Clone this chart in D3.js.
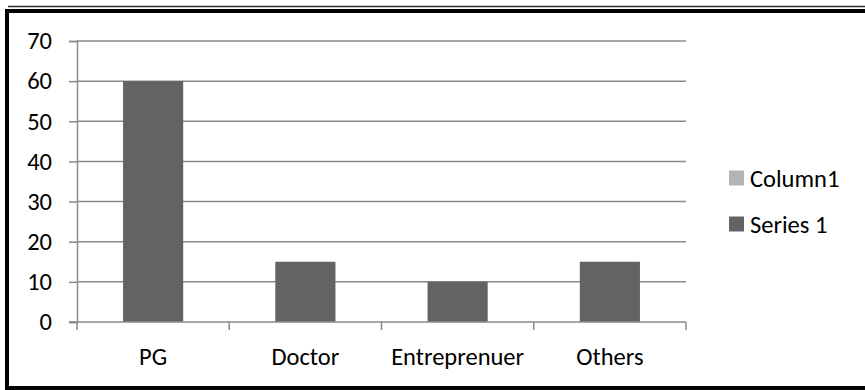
<!DOCTYPE html>
<html>
<head>
<meta charset="utf-8">
<script src="https://cdn.jsdelivr.net/npm/d3@7"></script>
<style>
  html, body { margin: 0; padding: 0; background: #fff; }
  svg { display: block; }
  text { font-family: Carlito, Lato, "Liberation Sans", sans-serif; fill: #000; }
</style>
</head>
<body>
<svg id="chart" width="865" height="390"></svg>
<script>
// Chart data
const categories = ["PG", "Doctor", "Entreprenuer", "Others"];
const series1 = [60, 15, 10, 15];
const yTicks = [0, 10, 20, 30, 40, 50, 60, 70];
const legendLabels = ["Column1", "Series 1"];

const W = 865, H = 390;
const plot = { left: 77, right: 686, top: 41, bottom: 322 };
const fontSize = 24.5;
const gridColor = "#8a8a8a";
const barColor = "#636363";
const legendColors = ["#b3b3b3", barColor];

const svg = d3.select("#chart");

// Outer frame
const frame = svg.append("g");
frame.append("line").attr("x1", 8).attr("x2", W).attr("y1", 6.5).attr("y2", 6.5)
  .attr("stroke", "#2b2b2b").attr("stroke-width", 1.5);
frame.append("rect").attr("x", 5).attr("y", 9).attr("width", W - 5).attr("height", 4).attr("fill", "#000");
frame.append("rect").attr("x", 5).attr("y", 9).attr("width", 4).attr("height", H - 9).attr("fill", "#000");
frame.append("rect").attr("x", 5).attr("y", 386).attr("width", W - 5).attr("height", 4).attr("fill", "#000");

// Scales
const y = d3.scaleLinear().domain([0, 70]).range([plot.bottom, plot.top]);
const barRatio = 0.395;
const x = d3.scaleBand().domain(categories).range([plot.left, plot.right])
  .paddingInner(1 - barRatio).paddingOuter((1 - barRatio) / 2);

// Horizontal gridlines
svg.append("g").selectAll("line").data(yTicks.filter(d => d > 0)).join("line")
  .attr("x1", plot.left).attr("x2", plot.right)
  .attr("y1", d => y(d)).attr("y2", d => y(d))
  .attr("stroke", gridColor).attr("stroke-width", 1.5);

// Y axis
const yAxis = svg.append("g").attr("transform", `translate(${plot.left},0)`)
  .call(d3.axisLeft(y).tickValues(yTicks).tickSize(8).tickPadding(17).tickFormat(d3.format("d")));
yAxis.select(".domain").attr("stroke", gridColor).attr("stroke-width", 1.5);
yAxis.selectAll(".tick line").attr("stroke", gridColor).attr("stroke-width", 1.5);
yAxis.selectAll(".tick text").attr("font-size", fontSize).attr("font-family", null).style("fill", "#000");

// Bars
svg.append("g").selectAll("rect").data(series1).join("rect")
  .attr("x", (d, i) => x(categories[i]))
  .attr("width", x.bandwidth())
  .attr("y", d => y(d))
  .attr("height", d => y(0) - y(d))
  .attr("fill", barColor);

// X axis baseline with ticks at category boundaries
const step = x.step();
const boundaries = d3.range(categories.length + 1).map(i => plot.left + i * step);
const xg = svg.append("g");
xg.append("line").attr("x1", plot.left - 8).attr("x2", plot.right)
  .attr("y1", y(0)).attr("y2", y(0)).attr("stroke", gridColor).attr("stroke-width", 1.5);
xg.selectAll("line.tk").data(boundaries).join("line").attr("class", "tk")
  .attr("x1", d => d).attr("x2", d => d)
  .attr("y1", y(0)).attr("y2", y(0) + 8)
  .attr("stroke", gridColor).attr("stroke-width", 1.5);
xg.selectAll("text").data(categories).join("text")
  .attr("x", d => x(d) + x.bandwidth() / 2)
  .attr("y", 365)
  .attr("text-anchor", "middle")
  .attr("font-size", fontSize)
  .text(d => d);

// Legend
const legend = svg.append("g");
const legendY = [178, 224];
legendLabels.forEach((label, i) => {
  legend.append("rect").attr("x", 729).attr("y", legendY[i] - 7.5)
    .attr("width", 15).attr("height", 15).attr("fill", legendColors[i]);
  legend.append("text").attr("x", 750).attr("y", legendY[i])
    .attr("dy", "0.35em").attr("font-size", fontSize).text(label);
});
</script>
</body>
</html>
